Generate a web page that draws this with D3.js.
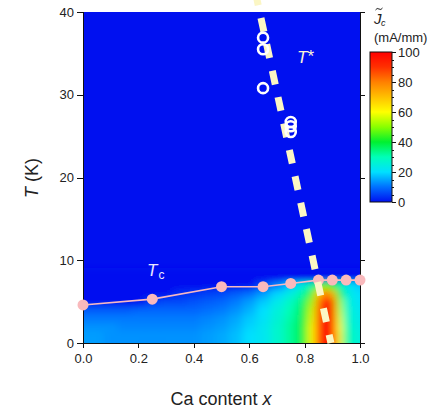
<!DOCTYPE html>
<html>
<head>
<meta charset="utf-8">
<script src="https://d3js.org/d3.v7.min.js"></script>
<style>
  body { margin: 0; background: #fff; }
  text { font-family: "Liberation Sans", Arial, sans-serif; fill: #222; }
  .axis path, .axis line { stroke: #111; shape-rendering: crispEdges; }
  .axis text { font-size: 13px; }
</style>
</head>
<body>
<script>
// Ca content columns of the Jc map
var xValues = [0, .05, .1, .15, .2, .25, .3, .35, .4, .45, .5, .55, .6, .65, .7, .75,
               .775, .8, .825, .85, .875, .9, .925, .95, .975, 1];
// temperature rows (K)
var tValues = [0, 1, 2, 3, 4, 5, 6, 7, 8];
// Jc (mA/mm), one row per temperature
var jcGrid = [
  [14,14,13,13,13,13,13,13,13,14,15,17,20,22,27,32,36,42,60,86,100,98,62,32,27,25],
  [14,14,13,13,13,13,13,13,13,14,15,17,20,22,27,32,36,42,60,86,100,98,62,32,27,25],
  [13,13,13,12,12,12,12,12,12,13,14,16,19,22,27,32,36,42,60,86,100,97,60,31,26,24],
  [11,11,11,11,11,11,11,11,11,12,13,15,18,21,26,31,35,41,58,85,100,96,58,30,25,23],
  [ 8, 8, 8, 8, 9, 9, 9, 9, 9,10,11,13,16,20,25,30,34,40,56,84,100,94,55,29,24,22],
  [ 0, 0, 0, 0, 0, 5, 6, 6, 7, 8, 9,11,14,18,23,28,32,38,52,80,98,90,52,28,23,21],
  [ 0, 0, 0, 0, 0, 0, 0, 3, 4, 5, 6, 8,10,14,19,24,28,33,44,68,84,72,42,26,22,20],
  [ 0, 0, 0, 0, 0, 0, 0, 0, 0, 0, 0, 0, 0, 6,12,18,22,26,32,44,50,44,32,24,20,18],
  [ 0, 0, 0, 0, 0, 0, 0, 0, 0, 0, 0, 0, 0, 0, 0, 0, 0, 0, 0, 0, 0, 0, 0, 0, 0, 0]
];
// Tc line
var tcX = [0, 0.25, 0.5, 0.65, 0.75, 0.85, 0.9, 0.95, 1.0];
var tcT = [4.6, 5.3, 6.8, 6.8, 7.2, 7.6, 7.6, 7.6, 7.6];
// T* points and guide line
var tStarX = [0.65, 0.65, 0.65, 0.75, 0.75, 0.75];
var tStarT = [36.9, 35.5, 30.8, 26.7, 26.2, 25.5];
var tStarLineX = [0.625, 0.895];
var tStarLineT = [42, 0];
// ticks
var xTicks = [0, 0.2, 0.4, 0.6, 0.8, 1.0];
var yTicks = [0, 10, 20, 30, 40];
var cbTicks = [0, 20, 40, 60, 80, 100];
// colour map stops
var cmapVals = [0, 10, 20, 30, 40, 50, 60, 70, 80, 90, 100];
var cmapCols = ["#0010f0", "#0070ff", "#00e0ff", "#00ffb8", "#00f030", "#88ff00",
                "#ffff00", "#ffc000", "#ff8000", "#ff3000", "#ff0000"];

var W = 438, H = 416;
var x = d3.scaleLinear().domain([0, 1]).range([83, 360]);
var y = d3.scaleLinear().domain([0, 40]).range([343, 12]);
var color = d3.scaleLinear().domain(cmapVals).range(cmapCols).clamp(true);

var svg = d3.select("body").append("svg").attr("width", W).attr("height", H);
var defs = svg.append("defs");
defs.append("clipPath").attr("id", "plotClip")
  .append("rect").attr("x", x(0)).attr("y", y(40))
  .attr("width", x(1) - x(0)).attr("height", y(0) - y(40));
defs.append("filter").attr("id", "soft")
  .attr("filterUnits", "userSpaceOnUse")
  .attr("x", 0).attr("y", 0).attr("width", W).attr("height", H)
  .append("feGaussianBlur").attr("stdDeviation", "4 3");

// background
svg.append("rect").attr("x", x(0)).attr("y", y(40))
  .attr("width", x(1) - x(0)).attr("height", y(0) - y(40))
  .attr("fill", color(0));

// heat map cells
var cells = [];
tValues.forEach(function (t, j) {
  xValues.forEach(function (xv, i) {
    var x0 = i == 0 ? -0.1 : (xValues[i - 1] + xv) / 2;
    var x1 = i == xValues.length - 1 ? 1.1 : (xValues[i + 1] + xv) / 2;
    var t0 = j == 0 ? -1.5 : (tValues[j - 1] + t) / 2;
    var t1 = j == tValues.length - 1 ? t + 1 : (tValues[j + 1] + t) / 2;
    cells.push({ x0: x0, x1: x1, t0: t0, t1: t1, v: jcGrid[j][i] });
  });
});
svg.append("g").attr("clip-path", "url(#plotClip)")
  .append("g").attr("filter", "url(#soft)")
  .selectAll("rect").data(cells).enter().append("rect")
  .attr("x", function (d) { return x(d.x0); })
  .attr("y", function (d) { return y(d.t1); })
  .attr("width", function (d) { return x(d.x1) - x(d.x0) + 0.5; })
  .attr("height", function (d) { return y(d.t0) - y(d.t1) + 0.5; })
  .attr("fill", function (d) { return color(d.v); });

// axes
svg.append("g").attr("class", "axis")
  .attr("transform", "translate(0," + y(0) + ")")
  .call(d3.axisBottom(x).tickValues(xTicks).tickFormat(d3.format(".1f")).tickSize(5).tickPadding(6));
svg.append("g").attr("class", "axis")
  .attr("transform", "translate(" + x(0) + ",0)")
  .call(d3.axisLeft(y).tickValues(yTicks).tickSize(6).tickPadding(3));
svg.append("g").attr("class", "axis")
  .attr("transform", "translate(" + x(1) + ",0)")
  .call(d3.axisRight(y).tickValues(yTicks).tickSize(5).tickFormat(""));

// Tc line
var tcData = tcX.map(function (d, i) { return [d, tcT[i]]; });
svg.append("path").datum(tcData)
  .attr("d", d3.line().x(function (d) { return x(d[0]); }).y(function (d) { return y(d[1]); }))
  .attr("fill", "none").attr("stroke", "#f7b8c2").attr("stroke-width", 1.6);
svg.selectAll("circle.tc").data(tcData).enter().append("circle")
  .attr("class", "tc")
  .attr("cx", function (d) { return x(d[0]); })
  .attr("cy", function (d) { return y(d[1]); })
  .attr("r", 5.5).attr("fill", "#f9b9bc");

// T* guide
var lineData = tStarLineX.map(function (d, i) { return [d, tStarLineT[i]]; });
svg.append("path").datum(lineData)
  .attr("d", d3.line().x(function (d) { return x(d[0]); }).y(function (d) { return y(d[1]); }))
  .attr("fill", "none").attr("stroke", "#fbf6c4").attr("stroke-width", 7)
  .attr("stroke-dasharray", "14,13").attr("stroke-dashoffset", 4);

svg.selectAll("circle.ts").data(tStarX).enter().append("circle")
  .attr("class", "ts")
  .attr("cx", function (d) { return x(d); })
  .attr("cy", function (d, i) { return y(tStarT[i]); })
  .attr("r", 5).attr("fill", "none").attr("stroke", "#fff").attr("stroke-width", 2.6);

// labels in plot
var ts = svg.append("text").attr("x", 297).attr("y", 63).style("font-size", "17px").style("fill", "#fbf3d5");
ts.append("tspan").style("font-style", "italic").text("T");
ts.append("tspan").text("*").attr("dy", -1);
var tc = svg.append("text").attr("x", 147).attr("y", 276).style("font-size", "17px").style("fill", "#ece6ff");
tc.append("tspan").style("font-style", "italic").text("T");
tc.append("tspan").text("c").style("font-size", "12px").attr("dx", 1).attr("dy", 3);

// axis titles
var yt = svg.append("text").attr("transform", "translate(38,178) rotate(-90)")
  .attr("text-anchor", "middle").style("font-size", "18px");
yt.append("tspan").style("font-style", "italic").text("T");
yt.append("tspan").text(" (K)");
var xt = svg.append("text").attr("x", 221).attr("y", 405)
  .attr("text-anchor", "middle").style("font-size", "18px");
xt.append("tspan").text("Ca content ");
xt.append("tspan").style("font-style", "italic").text("x");

// colour bar
var cb = d3.scaleLinear().domain([0, 100]).range([202, 52]);
var grad = defs.append("linearGradient").attr("id", "cbGrad")
  .attr("x1", 0).attr("y1", 1).attr("x2", 0).attr("y2", 0);
grad.selectAll("stop").data(cmapVals).enter().append("stop")
  .attr("offset", function (d) { return d / 100; })
  .attr("stop-color", function (d) { return color(d); });
svg.append("rect").attr("x", 370).attr("y", cb(100)).attr("width", 22)
  .attr("height", cb(0) - cb(100)).attr("fill", "url(#cbGrad)")
  .attr("stroke", "#111").attr("stroke-width", 1);
svg.append("g").attr("class", "axis")
  .attr("transform", "translate(392,0)")
  .call(d3.axisRight(cb).tickValues(d3.range(0, 101, 5)).tickSize(2).tickFormat(""))
  .call(function (g) { g.select(".domain").remove(); });
svg.append("g").attr("class", "axis")
  .attr("transform", "translate(392,0)")
  .call(d3.axisRight(cb).tickValues(cbTicks).tickSize(4).tickPadding(2))
  .call(function (g) { g.select(".domain").remove(); });

// colour bar title: J with tilde, subscript c
svg.append("text").attr("x", 374).attr("y", 24).style("font-size", "15px").style("font-style", "italic").text("J");
svg.append("path").attr("d", "M375.5,10 q1.5,-2.5 3.5,-1 q2,1.5 3.5,-1")
  .attr("fill", "none").attr("stroke", "#222").attr("stroke-width", 1);
svg.append("text").attr("x", 381).attr("y", 26).style("font-size", "9px").style("font-style", "italic").text("c");
svg.append("text").attr("x", 374).attr("y", 42).style("font-size", "13px").text("(mA/mm)");
</script>
</body>
</html>
